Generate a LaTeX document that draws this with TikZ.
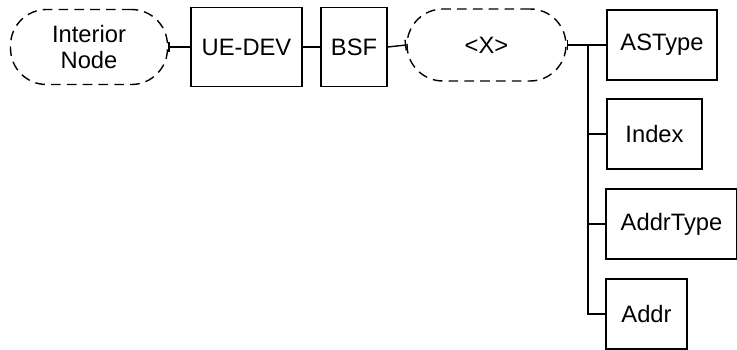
\documentclass[tikz,border=0pt]{standalone}
\usepackage{fontspec}
\setmainfont{Liberation Sans}
\usepackage{tikz}
\usetikzlibrary{shapes.geometric, arrows.meta}

\begin{document}
\begin{tikzpicture}[x=0.02cm, y=-0.02cm, line width=0.8pt,
        font=\fontsize{13.5}{14.5}\selectfont,
        box/.style={draw, rectangle, inner sep=0pt, minimum height=1.4cm},
        opt/.style={draw, rectangle, rounded corners=0.72cm, dash pattern=on 5.5pt off 3.5pt, inner sep=0pt, align=center},
        tick/.style={{Bar[width=6pt]}-}]
        \useasboundingbox (0,0) rectangle (737,350);

        \node[opt, minimum width=3.14cm, minimum height=1.5cm] (int) at (89,47) {Interior\\Node};
        \node[box, minimum width=2.22cm, minimum height=1.58cm] (ue) at (246.5,47) {UE-DEV};
        \node[box, minimum width=1.32cm, minimum height=1.58cm] (bsf) at (354,47) {BSF};
        \node[opt, minimum width=3.18cm, minimum height=1.44cm] (x) at (486.5,45) {<X>};

        \node[box, minimum width=2.2cm] (ast) at (662,45) {ASType};
        \node[box, minimum width=1.9cm] (idx) at (654.5,134) {Index};
        \node[box, minimum width=2.62cm] (adt) at (671.5,224) {AddrType};
        \node[box, minimum width=1.62cm] (addr) at (646.5,314) {Addr};

        \coordinate (T) at (588,45);

        % int -> ue -> bsf -> x
        \draw[tick] (int.east) -- (ue.west);
        \draw[-] (ue.east) -- (bsf.west);
        \draw[-{Bar[width=6pt]}] (bsf.east) -- (x.west);

        % x -> children
        \draw[tick] (x.east) -- (ast.west);
        \draw[-] (T) |- (idx.west);
        \draw[-] (T) |- (adt.west);
        \draw[-] (T) |- (addr.west);
    \end{tikzpicture}
\end{document}
